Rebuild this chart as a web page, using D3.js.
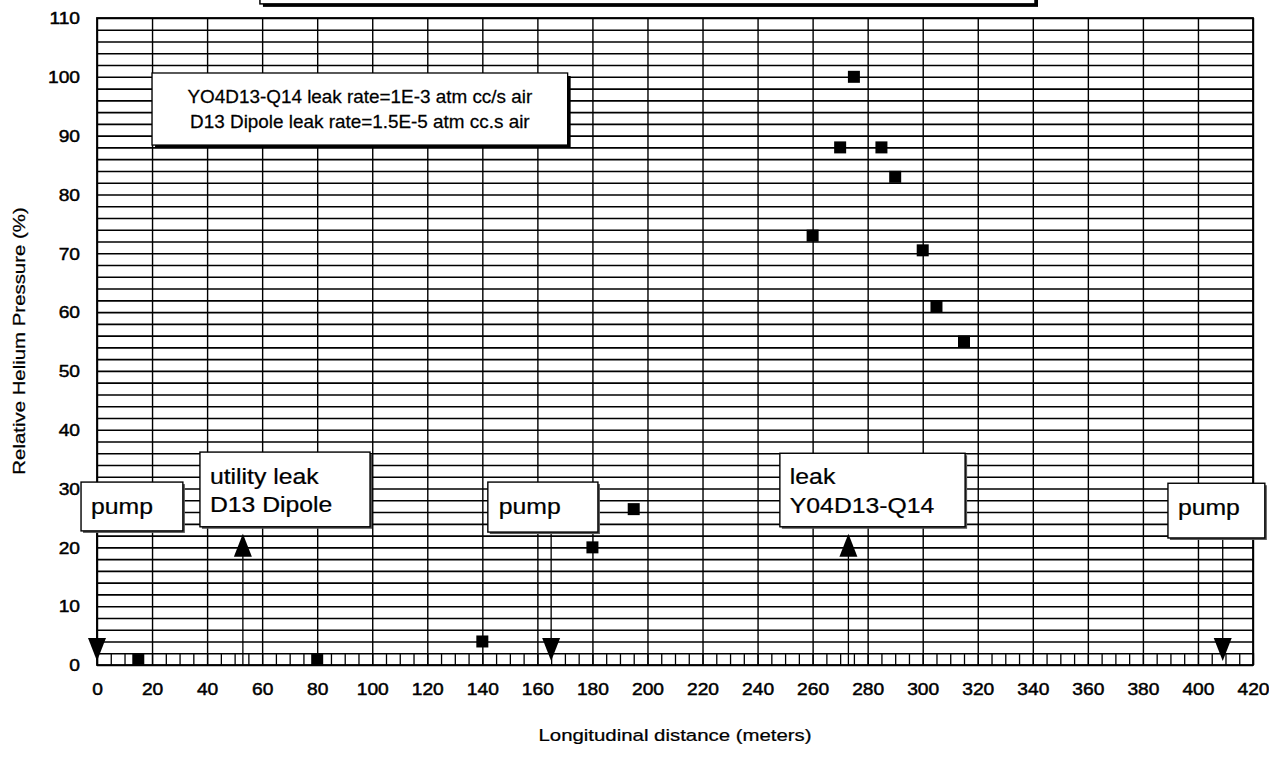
<!DOCTYPE html>
<html>
<head>
<meta charset="utf-8">
<script src="https://cdn.jsdelivr.net/npm/d3@7"></script>
<style>
  html, body { margin: 0; padding: 0; background: #fff; }
  svg { display: block; }
  text { font-family: "Liberation Sans", Arial, sans-serif; fill: #000; }
  .tick text { stroke: #000; stroke-width: 0.45px; }
  .heavy { stroke: #000; stroke-width: 0.25px; }
</style>
</head>
<body>
<svg id="chart" width="1269" height="758"></svg>
<script>
// ---------- data ----------
const distance = [15, 80, 140, 180, 195, 260, 270, 275, 285, 290, 300, 305, 315];
const pressure = [1, 1, 4, 20, 26.5, 73, 88, 100, 88, 83, 70.5, 61, 55];
const xTickValues = d3.range(0, 421, 20);
const yTickValues = d3.range(0, 111, 10);
const xTitle = "Longitudinal distance (meters)";
const yTitle = "Relative Helium Pressure (%)";
const legendLines = ["YO4D13-Q14 leak rate=1E-3 atm cc/s air", "D13 Dipole leak rate=1.5E-5 atm cc.s air"];
const annotationTexts = [["pump"], ["utility leak", "D13 Dipole"], ["pump"], ["leak", "Y04D13-Q14"], ["pump"]];
const arrowAt = [0, 53, 165, 273, 409];          // distance where each annotation points
const arrowDir = ["down", "up", "down", "up", "down"];

// ---------- layout ----------
const W = 1269, H = 758;
const plot = { left: 97, right: 1253, top: 18, bottom: 665 };
const svg = d3.select("#chart");
const x = d3.scaleLinear().domain([0, 420]).range([plot.left, plot.right]);
const y = d3.scaleLinear().domain([0, 110]).range([plot.bottom, plot.top]);

// annotation boxes in data units (x0,x1,yTop,yBottom), text offset px
const boxes = [
  { x0: -5.8, x1: 31.2, yt: 31.1, yb: 22.8, tx: 10, lines: [32] },
  { x0: 37.4, x1: 99.2, yt: 36.2, yb: 23.5, tx: 10, lines: [32, 60] },
  { x0: 142.0, x1: 182.0, yt: 31.1, yb: 22.6, tx: 11, lines: [32] },
  { x0: 248.1, x1: 315.4, yt: 36.0, yb: 23.5, tx: 10, lines: [31, 60] },
  { x0: 389.1, x1: 424.3, yt: 30.9, yb: 21.6, tx: 10, lines: [32] }
];

// ---------- grid ----------
const grid = svg.append("g");
grid.append("g")
  .attr("transform", `translate(0,${plot.bottom})`)
  .call(d3.axisBottom(x).tickValues(xTickValues).tickSize(-(plot.bottom - plot.top)).tickFormat(""))
  .call(g => g.select(".domain").remove())
  .call(g => g.selectAll("line").attr("stroke", "#000").attr("stroke-width", 1.4));
grid.append("g")
  .attr("transform", `translate(${plot.left},0)`)
  .call(d3.axisLeft(y).tickValues(d3.range(0, 111, 2)).tickSize(-(plot.right - plot.left)).tickFormat(""))
  .call(g => g.select(".domain").remove())
  .call(g => g.selectAll("line").attr("stroke", "#000").attr("stroke-width", 1.6));
// minor ticks along bottom
grid.append("g")
  .attr("transform", `translate(0,${plot.bottom})`)
  .call(d3.axisBottom(x).tickValues(d3.range(0, 421, 5)).tickSize(-12).tickFormat(""))
  .call(g => g.select(".domain").remove())
  .call(g => g.selectAll("line").attr("stroke", "#000").attr("stroke-width", 1.3));
// frame
svg.append("rect")
  .attr("x", plot.left).attr("y", plot.top)
  .attr("width", plot.right - plot.left).attr("height", plot.bottom - plot.top)
  .attr("fill", "none").attr("stroke", "#000").attr("stroke-width", 1.8);

// ---------- axes labels ----------
const tickSX = 1.2;
svg.append("g")
  .attr("transform", `translate(0,${plot.bottom})`)
  .call(d3.axisBottom(x).tickValues(xTickValues).tickSize(0).tickPadding(19))
  .call(g => g.select(".domain").remove())
  .call(g => g.selectAll("text").style("font-size", "16px").attr("transform", `scale(${tickSX},1)`));
svg.append("g")
  .attr("transform", `translate(${plot.left},0)`)
  .call(d3.axisLeft(y).tickValues(yTickValues).tickSize(0))
  .call(g => g.select(".domain").remove())
  .call(g => g.selectAll("text").style("font-size", "16px")
    .attr("x", -17 / tickSX).attr("dy", "0.36em").attr("transform", `scale(${tickSX},1)`));

function sText(parent, px, py, str, size, sx, anchor, rot) {
  return parent.append("text")
    .attr("class", "heavy")
    .attr("transform", `translate(${px},${py}) rotate(${rot || 0}) scale(${sx},1)`)
    .attr("text-anchor", anchor)
    .style("font-size", size + "px")
    .text(str);
}
sText(svg, (plot.left + plot.right) / 2, 741, xTitle, 17, 1.2, "middle", 0);
sText(svg, 25, 341, yTitle, 17, 1.2, "middle", -90);

// ---------- title box (cut off at top) ----------
svg.append("rect").attr("x", x(59.2) + 3).attr("y", -30).attr("width", x(340.8) - x(59.2)).attr("height", 30 + y(112.4) + 3).attr("fill", "#000");
svg.append("rect").attr("x", x(59.2)).attr("y", -30).attr("width", x(340.8) - x(59.2)).attr("height", 30 + y(112.4))
  .attr("fill", "#fff").attr("stroke", "#000").attr("stroke-width", 1.5);

// ---------- legend box ----------
const lg = { x0: 20.0, x1: 171.0, yt: 100.65, yb: 88.4 };
svg.append("rect").attr("x", x(lg.x0) + 3).attr("y", y(lg.yt) + 3)
  .attr("width", x(lg.x1) - x(lg.x0)).attr("height", y(lg.yb) - y(lg.yt)).attr("fill", "#000");
svg.append("rect").attr("x", x(lg.x0)).attr("y", y(lg.yt))
  .attr("width", x(lg.x1) - x(lg.x0)).attr("height", y(lg.yb) - y(lg.yt))
  .attr("fill", "#fff").attr("stroke", "#000").attr("stroke-width", 1.3);
legendLines.forEach((s, i) => {
  sText(svg, (x(lg.x0) + x(lg.x1)) / 2, y(lg.yt) + 30 + i * 25, s, 18, 1.05, "middle", 0);
});

// ---------- annotation arrows ----------
const arrows = svg.append("g");
const headW = 18, headH = 23;
arrowAt.forEach((d, i) => {
  const b = boxes[i];
  const ax = x(d);
  if (arrowDir[i] === "down") {
    const tip = y(0) - 4;
    arrows.append("line").attr("x1", ax).attr("x2", ax).attr("y1", y(b.yb)).attr("y2", tip - headH + 2)
      .attr("stroke", "#000").attr("stroke-width", 1.3);
    arrows.append("path")
      .attr("d", `M${ax - headW / 2},${tip - headH}L${ax + headW / 2},${tip - headH}L${ax},${tip}Z`)
      .attr("fill", "#000");
  } else {
    const tip = y(b.yb) + 7;
    arrows.append("line").attr("x1", ax).attr("x2", ax).attr("y1", y(0)).attr("y2", tip + headH - 2)
      .attr("stroke", "#000").attr("stroke-width", 1.3);
    arrows.append("path")
      .attr("d", `M${ax - headW / 2},${tip + headH}L${ax + headW / 2},${tip + headH}L${ax},${tip}Z`)
      .attr("fill", "#000");
  }
});

// ---------- data markers ----------
const pts = distance.map((d, i) => ({ d, p: pressure[i] }));
svg.append("g").selectAll("rect").data(pts).join("rect")
  .attr("x", d => x(d.d) - 6).attr("y", d => y(d.p) - 6)
  .attr("width", 12).attr("height", 12).attr("fill", "#000");

// ---------- annotation boxes ----------
const ab = svg.append("g");
boxes.forEach((b, i) => {
  ab.append("rect").attr("x", x(b.x0) + 2).attr("y", y(b.yt) + 2)
    .attr("width", x(b.x1) - x(b.x0)).attr("height", y(b.yb) - y(b.yt)).attr("fill", "#555");
  ab.append("rect").attr("x", x(b.x0)).attr("y", y(b.yt))
    .attr("width", x(b.x1) - x(b.x0)).attr("height", y(b.yb) - y(b.yt))
    .attr("fill", "#fff").attr("stroke", "#000").attr("stroke-width", 1.4);
  annotationTexts[i].forEach((s, j) => {
    sText(ab, x(b.x0) + b.tx, y(b.yt) + b.lines[j], s, 22.5, 1.1, "start", 0);
  });
});
</script>
</body>
</html>
